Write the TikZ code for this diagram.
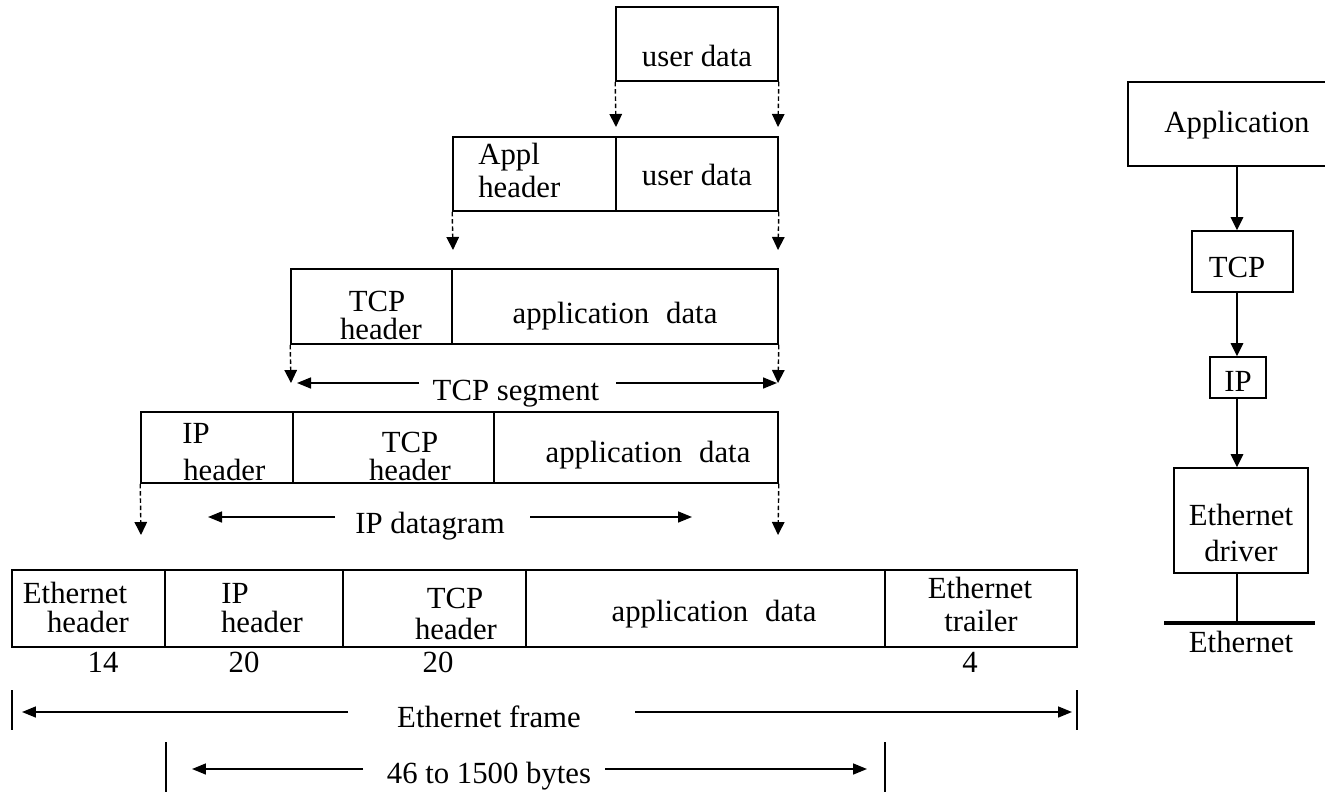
\documentclass[tikz,border=0pt]{standalone}
\usepackage{fontspec}
\setmainfont{Liberation Serif}
\usetikzlibrary{fit,arrows.meta}
\begin{document}
\begin{tikzpicture}[x=0.02cm,y=-0.02cm,
  cell/.style={draw, line width=0.9pt, inner sep=0pt, fit={#1}},
  lbl/.style={font=\fontsize{17.5}{21}\selectfont, inner sep=0pt, anchor=base},
  lbll/.style={lbl, anchor=base west},
  drop/.style={line width=0.8pt, dash pattern=on 0.09cm off 0.055cm,
    -{Triangle[length=0.26cm,width=0.25cm]}},
  span/.style={line width=0.9pt, -{Triangle[length=0.28cm,width=0.22cm]}},
  flow/.style={line width=0.9pt, -{Triangle[length=0.26cm,width=0.25cm]}},
  tick/.style={line width=0.9pt}]
\clip (0,0) rectangle (1325,791);
\fill[white] (0,0) rectangle (1325,791);

% ---- user data ----
\node[cell={(616,7) (778,81)}] (ud) {};
\node[lbl] (ud-t) at (697,66) {user data};

% ---- application layer ----
\node[cell={(453,137) (616,211)}] (ah) {};
\node[cell={(616,137) (778,211)}] (ad) {};
\node[lbll] (ah-t1) at (478,164) {Appl};
\node[lbll] (ah-t2) at (478,197) {header};
\node[lbl] (ad-t) at (697,185) {user data};

\coordinate (d1l) at (616,127);
\coordinate (d1r) at (778,127);
\draw[drop] (ud.south west) -- (d1l);
\draw[drop] (ud.south east) -- (d1r);

% ---- TCP segment ----
\node[cell={(291,269) (452,344)}] (th) {};
\node[cell={(452,269) (778,344)}] (td) {};
\node[lbl] (th-t1) at (377,311) {TCP};
\node[lbl] (th-t2) at (381,339) {header};
\node[lbl] (td-t) at (615,323) {application\hspace{0.55em}data};

\coordinate (d2l) at (453,250);
\coordinate (d2r) at (778,250);
\draw[drop] (ah.south west) -- (d2l);
\draw[drop] (ad.south east) -- (d2r);

\coordinate (d3l) at (291,383);
\coordinate (d3r) at (778,383);
\draw[drop] (th.south west) -- (d3l);
\draw[drop] (td.south east) -- (d3r);

\node[lbl] (seg) at (516,400) {TCP segment};
\coordinate (segA) at (419,383);
\coordinate (segB) at (297,383);
\coordinate (segC) at (616,383);
\coordinate (segD) at (777,383);
\draw[span] (segA) -- (segB);
\draw[span] (segC) -- (segD);

% ---- IP datagram ----
\node[cell={(141,412) (293,483)}] (ih) {};
\node[cell={(293,412) (494,483)}] (it) {};
\node[cell={(494,412) (778,483)}] (idd) {};
\node[lbll] (ih-t1) at (182,443) {IP};
\node[lbll] (ih-t2) at (183,480) {header};
\node[lbl] (it-t1) at (410,452) {TCP};
\node[lbl] (it-t2) at (410,480) {header};
\node[lbl] (idd-t) at (648,462) {application\hspace{0.55em}data};

\coordinate (d4l) at (141,535);
\coordinate (d4r) at (778,535);
\draw[drop] (ih.south west) -- (d4l);
\draw[drop] (idd.south east) -- (d4r);

\node[lbll] (dg) at (355,533) {IP datagram};
\coordinate (dgA) at (335,517);
\coordinate (dgB) at (208,517);
\coordinate (dgC) at (530,517);
\coordinate (dgD) at (692,517);
\draw[span] (dgA) -- (dgB);
\draw[span] (dgC) -- (dgD);

% ---- Ethernet frame ----
\node[cell={(12,570) (165,647)}] (eh) {};
\node[cell={(165,570) (343,647)}] (ei) {};
\node[cell={(343,570) (526,647)}] (et) {};
\node[cell={(526,570) (885,647)}] (ea) {};
\node[cell={(885,570) (1077,647)}] (etr) {};
\node[lbl] (eh-t1) at (75,603) {Ethernet};
\node[lbl] (eh-t2) at (88,632) {header};
\node[lbl] (ei-t1) at (235,603) {IP};
\node[lbl] (ei-t2) at (262,632) {header};
\node[lbl] (et-t1) at (455,608) {TCP};
\node[lbl] (et-t2) at (456,639) {header};
\node[lbl] (ea-t) at (714,621) {application\hspace{0.55em}data};
\node[lbl] (etr-t1) at (980,598) {Ethernet};
\node[lbl] (etr-t2) at (981,631) {trailer};

\node[lbl] (n14) at (103,672) {14};
\node[lbl] (n20a) at (244,672) {20};
\node[lbl] (n20b) at (438,672) {20};
\node[lbl] (n4) at (970,672) {4};

% frame length
\node[lbl] (fr) at (489,727) {Ethernet frame};
\coordinate (frL1) at (12,690);  \coordinate (frL2) at (12,730);
\coordinate (frR1) at (1077,690); \coordinate (frR2) at (1077,730);
\draw[tick] (frL1) -- (frL2);
\draw[tick] (frR1) -- (frR2);
\coordinate (frA) at (348,712); \coordinate (frB) at (22,712);
\coordinate (frC) at (635,712); \coordinate (frD) at (1072,712);
\draw[span] (frA) -- (frB);
\draw[span] (frC) -- (frD);

% payload length
\node[lbl] (pl) at (489,783) {46 to 1500 bytes};
\coordinate (plL1) at (166,742); \coordinate (plL2) at (166,795);
\coordinate (plR1) at (885,742); \coordinate (plR2) at (885,795);
\draw[tick] (plL1) -- (plL2);
\draw[tick] (plR1) -- (plR2);
\coordinate (plA) at (363,769); \coordinate (plB) at (192,769);
\coordinate (plC) at (605,769); \coordinate (plD) at (867,769);
\draw[span] (plA) -- (plB);
\draw[span] (plC) -- (plD);

% ---- protocol stack ----
\node[cell={(1128,82) (1346,166)}] (app) {};
\node[lbl] (app-t) at (1237,132) {Application};
\node[cell={(1192,231) (1293,292)}] (tcp) {};
\node[lbl] (tcp-t) at (1237,277) {TCP};
\node[cell={(1210,357) (1266,398)}] (ip) {};
\node[lbl] (ip-t) at (1238,391) {IP};
\node[cell={(1174,468) (1308,573)}] (drv) {};
\node[lbl] (drv-t1) at (1241,525) {Ethernet};
\node[lbl] (drv-t2) at (1241,561) {driver};
\coordinate (busL) at (1164,623);
\coordinate (busR) at (1315,623);
\draw[line width=2.6pt] (busL) -- (busR);
\node[lbl] (bus-t) at (1241,652) {Ethernet};

\draw[flow] (app.south) -- (app.south |- tcp.north);
\draw[flow] (tcp.south -| app.south) -- (ip.north -| app.south);
\draw[flow] (ip.south -| app.south) -- (drv.north -| app.south);
\draw[line width=0.9pt] (drv.south -| app.south) -- (busL -| app.south);
\end{tikzpicture}
\end{document}
